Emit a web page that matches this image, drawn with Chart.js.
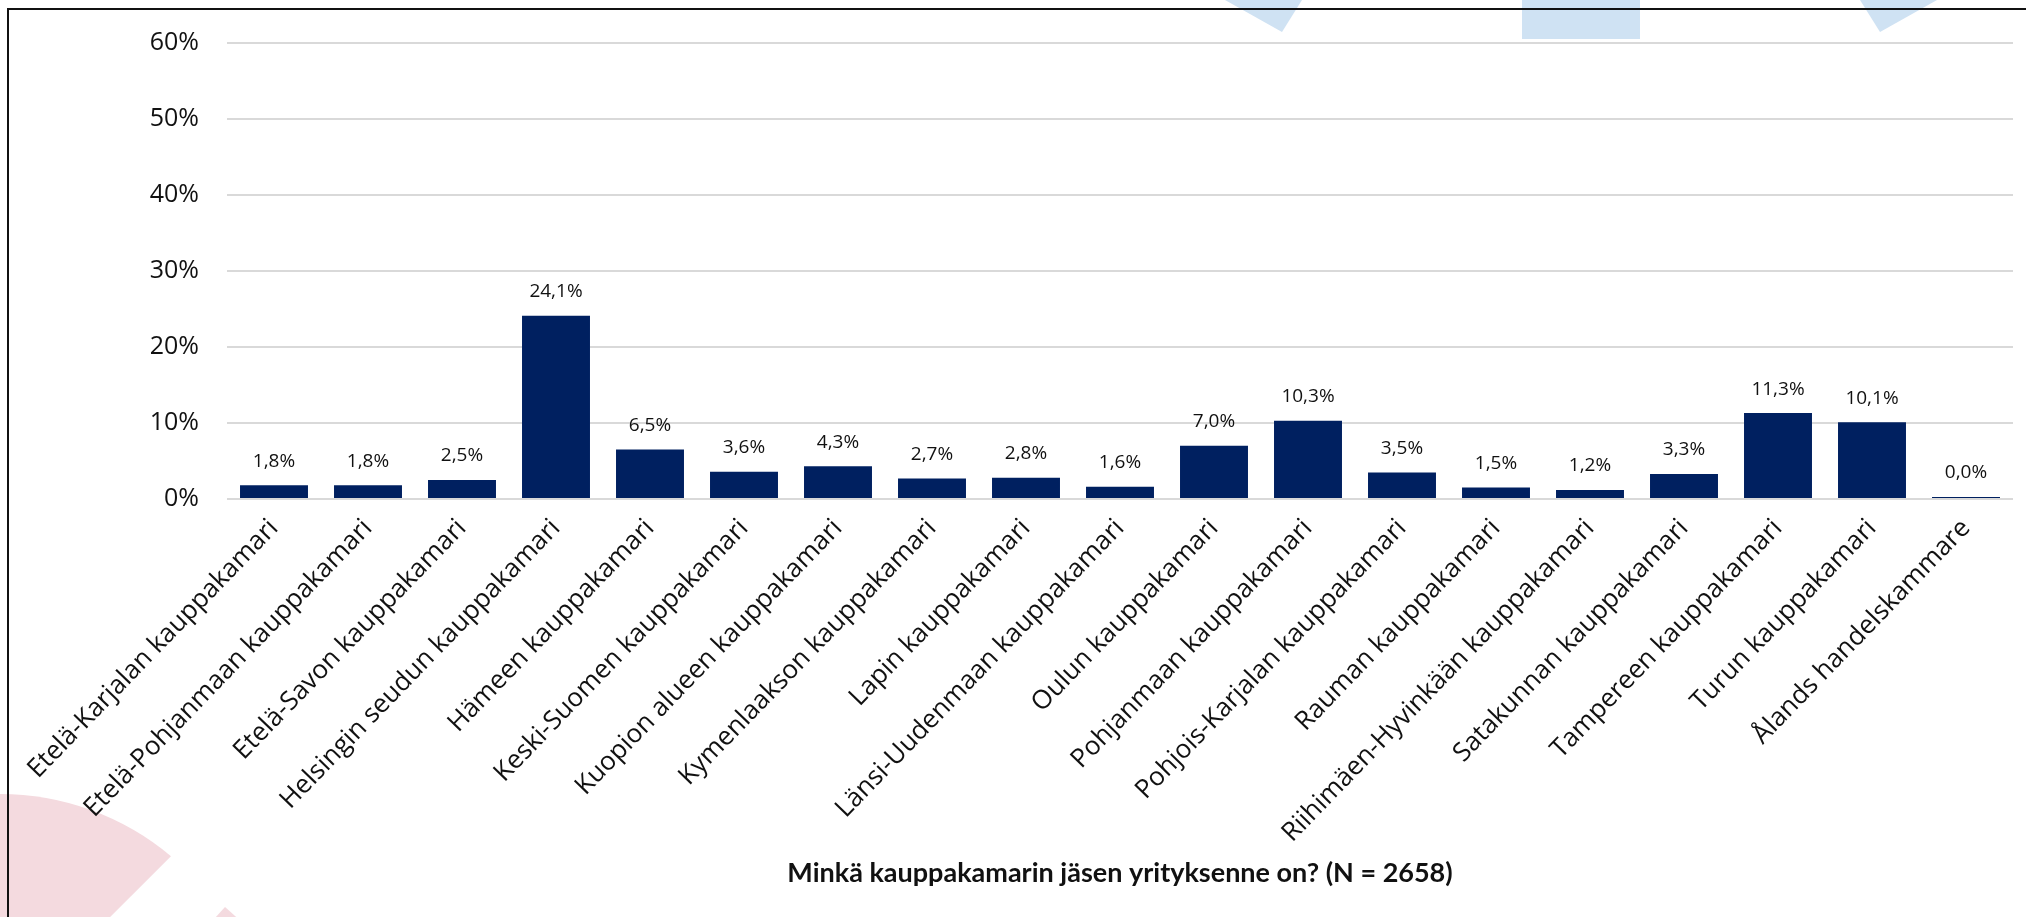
<!DOCTYPE html>
<html lang="fi">
<head>
    <meta charset="UTF-8">
    <title>Kauppakamarit</title>
    <script src="https://cdn.jsdelivr.net/npm/chart.js"></script>
    <style>
        html, body { margin: 0; padding: 0; background: #fff; }
        #wrap { width: 2026px; height: 917px; }
    </style>
</head>
<body>
    <div id="wrap">
        <canvas id="chambers-chart" width="2026" height="917"></canvas>
    </div>

    <script>
        const categories = [
            'Etelä-Karjalan kauppakamari',
            'Etelä-Pohjanmaan kauppakamari',
            'Etelä-Savon kauppakamari',
            'Helsingin seudun kauppakamari',
            'Hämeen kauppakamari',
            'Keski-Suomen kauppakamari',
            'Kuopion alueen kauppakamari',
            'Kymenlaakson kauppakamari',
            'Lapin kauppakamari',
            'Länsi-Uudenmaan kauppakamari',
            'Oulun kauppakamari',
            'Pohjanmaan kauppakamari',
            'Pohjois-Karjalan kauppakamari',
            'Rauman kauppakamari',
            'Riihimäen-Hyvinkään kauppakamari',
            'Satakunnan kauppakamari',
            'Tampereen kauppakamari',
            'Turun kauppakamari',
            'Ålands handelskammare'
        ];
        const shares = [1.8, 1.8, 2.5, 24.1, 6.5, 3.6, 4.3, 2.7, 2.8, 1.6, 7.0, 10.3, 3.5, 1.5, 1.2, 3.3, 11.3, 10.1, 0.0];
        const yTicks = [0, 10, 20, 30, 40, 50, 60];
        const axisTitle = 'Minkä kauppakamarin jäsen yrityksenne on? (N = 2658)';

        // background: slide decorations + frame
        const backdrop = {
            id: 'backdrop',
            beforeDraw(chart) {
                const c = chart.ctx;
                c.save();
                c.fillStyle = '#fff';
                c.fillRect(0, 0, chart.width, chart.height);

                c.fillStyle = '#cfe2f3';
                c.beginPath();
                c.moveTo(1225, 0); c.lineTo(1302, 0); c.lineTo(1282, 32); c.closePath();
                c.fill();
                c.fillRect(1522, 0, 118, 39);
                c.beginPath();
                c.moveTo(1860, 0); c.lineTo(1937, 0); c.lineTo(1880, 32); c.closePath();
                c.fill();

                c.fillStyle = '#f4dadf';
                c.beginPath();
                c.moveTo(0, 1027);
                c.lineTo(0, 794);
                c.arc(0, 1060, 266, -Math.PI / 2, Math.atan2(855 - 1060, 172));
                c.closePath();
                c.fill();
                c.beginPath();
                c.moveTo(225, 907); c.lineTo(262, 940); c.lineTo(195, 940); c.closePath();
                c.fill();

                c.strokeStyle = '#111';
                c.lineWidth = 2;
                c.beginPath();
                c.moveTo(8, 917); c.lineTo(8, 9); c.lineTo(2026, 9);
                c.stroke();
                c.restore();
            }
        };

        const valueLabels = {
            id: 'valueLabels',
            afterDatasetsDraw(chart) {
                const c = chart.ctx;
                const meta = chart.getDatasetMeta(0);
                c.save();
                c.font = '19px "Open Sans"';
                c.fillStyle = '#111';
                c.textAlign = 'center';
                c.textBaseline = 'middle';
                meta.data.forEach((bar, i) => {
                    const txt = shares[i].toFixed(1).replace('.', ',') + '%';
                    c.fillText(txt, bar.x, bar.y - 24);
                });
                c.restore();
            }
        };

        const ctx = document.getElementById('chambers-chart').getContext('2d');
        new Chart(ctx, {
            type: 'bar',
            data: {
                labels: categories,
                datasets: [{
                    data: shares,
                    backgroundColor: '#002060',
                    categoryPercentage: 1,
                    barPercentage: 0.723,
                    minBarLength: 2
                }]
            },
            options: {
                responsive: false,
                animation: false,
                layout: { padding: { top: 41, right: 13, left: 0, bottom: 0 } },
                plugins: {
                    legend: { display: false },
                    tooltip: { enabled: false }
                },
                scales: {
                    x: {
                        grid: { display: false },
                        border: { display: false },
                        ticks: {
                            color: '#111',
                            font: { family: 'Open Sans', size: 26 },
                            minRotation: 46,
                            maxRotation: 46,
                            autoSkip: false,
                            padding: 6
                        },
                        title: {
                            display: true,
                            text: axisTitle,
                            color: '#111',
                            font: { family: 'Lato', size: 27, weight: 'bold' },
                            padding: { top: 0, bottom: 28 }
                        },
                        afterFit(scale) { scale.height = 418; }
                    },
                    y: {
                        min: 0,
                        max: 60,
                        afterBuildTicks(scale) { scale.ticks = yTicks.map(v => ({ value: v })); },
                        grid: { color: '#d9d9d9', lineWidth: 2, drawTicks: false },
                        border: { display: false },
                        ticks: {
                            color: '#111',
                            font: { family: 'Open Sans', size: 25 },
                            padding: 28,
                            callback: v => v + '%'
                        },
                        afterFit(scale) { scale.width = 227; }
                    }
                }
            },
            plugins: [backdrop, valueLabels]
        });
    </script>
</body>
</html>
